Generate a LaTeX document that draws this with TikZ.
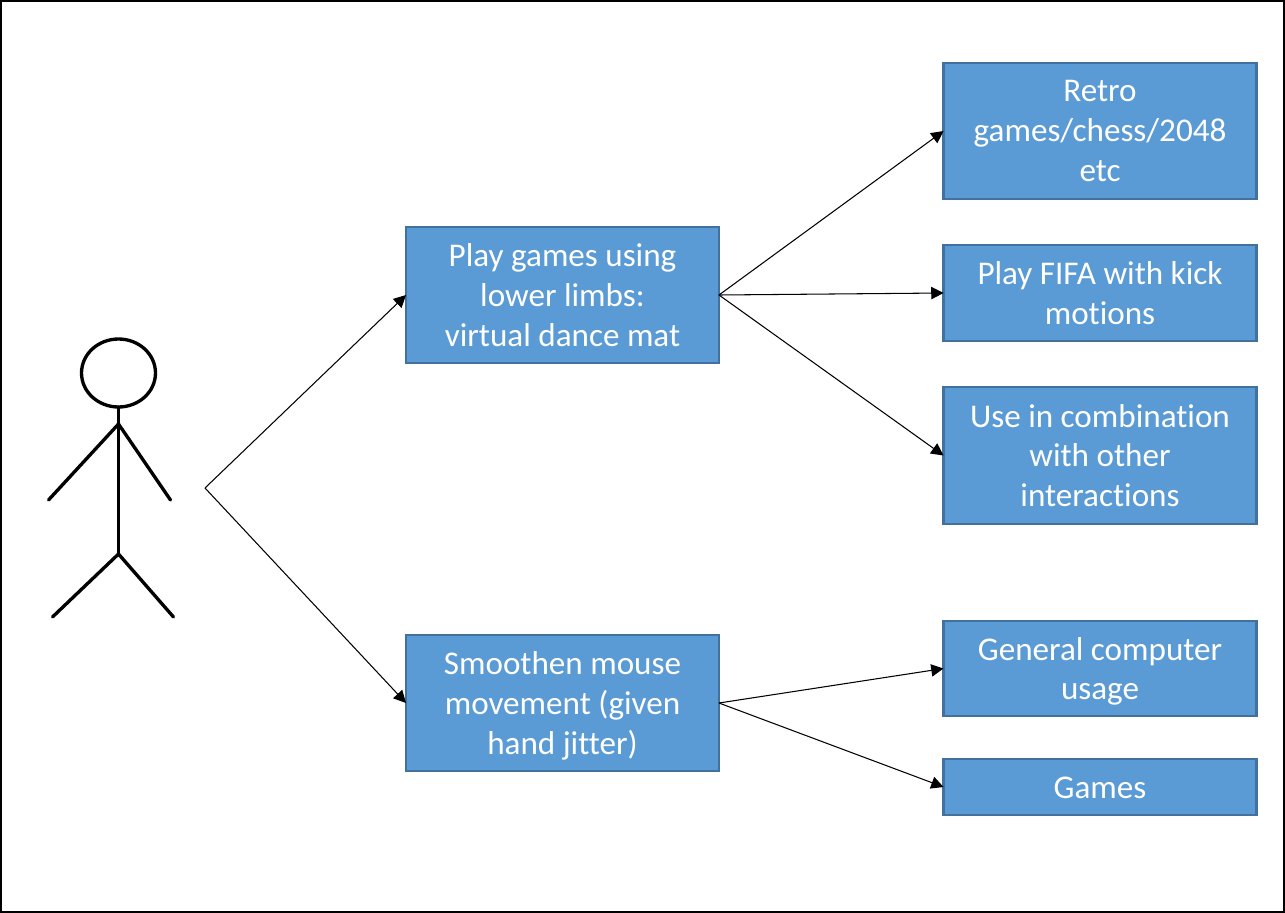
\documentclass[tikz,border=0pt]{standalone}
\usepackage{fontspec}
\setmainfont[Ligatures=NoCommon]{Carlito}
\usepackage{xcolor}
\usetikzlibrary{arrows.meta}
\definecolor{boxfill}{HTML}{5B9BD5}
\definecolor{boxline}{HTML}{41719C}
\tikzset{
	usebox/.style={draw=boxline,fill=boxfill,line width=1.3pt,text=white,align=center,
		minimum width=6.26cm,inner sep=0pt,outer sep=0pt,
		font=\fontsize{18.85pt}{22.7pt}\selectfont},
	link/.style={-{Triangle[length=7pt,width=7pt]},line width=0.6pt},
	figureline/.style={line width=1.9pt,line cap=round}
}
\begin{document}
\begin{tikzpicture}[x=0.02cm,y=-0.02cm]
	\draw[line width=1.1pt,fill=white] (1,1) rectangle (1284,912);
	\useasboundingbox (0,0) rectangle (1285,913);

	\draw[figureline] (118.5,373) ellipse [x radius=37,y radius=34];
	\draw[figureline] (118.5,407) -- (118.5,554);
	\draw[figureline] (48.5,500) -- (118.5,424) -- (170.5,500);
	\draw[figureline] (52.5,617) -- (118.5,554) -- (173.5,617);

	\coordinate (fork) at (205,488);

	\node[usebox,minimum height=2.72cm] (lower) at (562.5,295) {Play games using\\lower limbs:\\virtual dance mat};
	\node[usebox,minimum height=2.72cm] (mouse) at (562.5,703) {Smoothen mouse\\movement (given\\\smash{hand jitter)}};

	\node[usebox,minimum height=2.72cm] (retro) at (1100,131) {Retro\\games/chess/2048\\etc};
	\node[usebox,minimum height=1.92cm] (fifa) at (1100,293) {Play FIFA with kick\\motions};
	\node[usebox,minimum height=2.74cm] (combo) at (1100,455.5) {Use in combination\\with other\\interactions};
	\node[usebox,minimum height=1.9cm] (general) at (1100,668.5) {General computer\\\smash{usage}};
	\node[usebox,minimum height=1.12cm] (games) at (1100,787) {\rule{0pt}{13.3pt}Games};

	\draw[link] (fork) -- (lower.west);
	\draw[link] (fork) -- (mouse.west);
	\draw[link] (lower.east) -- (retro.west);
	\draw[link] (lower.east) -- (fifa.west);
	\draw[link] (lower.east) -- (combo.west);
	\draw[link] (mouse.east) -- (general.west);
	\draw[link] (mouse.east) -- (games.west);
\end{tikzpicture}
\end{document}
